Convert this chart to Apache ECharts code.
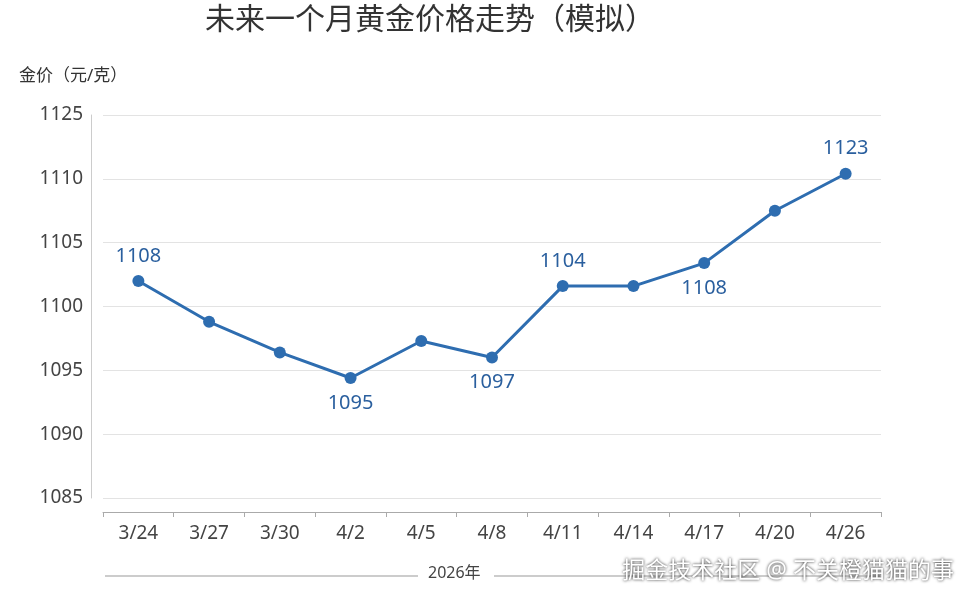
<!DOCTYPE html>
<html><head><meta charset="utf-8">
<script src="https://cdn.jsdelivr.net/npm/echarts@6/dist/echarts.min.js"></script>
<style>html,body{margin:0;background:#fff}#main{width:970px;height:606px}</style>
</head><body><div id="main"></div>
<script>
var dates = ['3/24','3/27','3/30','4/2','4/5','4/8','4/11','4/14','4/17','4/20','4/26'];
var prices = [1102, 1098.8, 1096.4, 1094.4, 1097.3, 1096, 1101.6, 1101.6, 1103.4, 1107.5, 1110.4];
var pointLabels = ['1108','','','1095','','1097','1104','','1108','','1123'];
var labelPos = ['top','','','bottom','','bottom','top','','bottom','','top'];
var tickText = {1085:'1085',1090:'1090',1095:'1095',1100:'1100',1105:'1105',1110:'1110',1115:'1125'};

var font = '"Noto Sans", "Noto Sans CJK SC", sans-serif';
var chart = echarts.init(document.getElementById('main'));
chart.setOption({
  textStyle: { fontFamily: font },
  title: { text: '未来一个月黄金价格走势（模拟）', left: 425, top: 0, textAlign: 'center',
    textStyle: { fontSize: 30, fontWeight: 'normal', color: '#333', fontFamily: font } },
  grid: { left: 103, right: 89, top: 115, bottom: 108 },
  xAxis: {
    type: 'category', data: dates, offset: 14,
    axisLine: { lineStyle: { color: '#aaa' } },
    axisTick: { show: true, lineStyle: { color: '#aaa' } },
    axisLabel: { fontSize: 19, color: '#444', margin: 12 }
  },
  yAxis: {
    type: 'value', min: 1085, max: 1115, interval: 5, offset: 12,
    name: '金价（元/克）', nameLocation: 'end', nameGap: 30,
    nameTextStyle: { fontSize: 17, color: '#333', align: 'left', padding: [0, 0, 0, -72] },
    axisLine: { show: true, lineStyle: { color: '#ccc' } },
    axisLabel: { fontSize: 19, color: '#444', formatter: function (v) { return tickText[v] || ''; } },
    splitLine: { lineStyle: { color: '#e3e3e3' } }
  },
  series: [{
    type: 'line', symbol: 'circle', symbolSize: 12,
    lineStyle: { width: 3, color: '#2e6db0' },
    itemStyle: { color: '#2e6db0' },
    data: prices.map(function (v, i) {
      return { value: v, label: { show: !!pointLabels[i], position: labelPos[i] || 'top',
        formatter: pointLabels[i], fontSize: 20, color: '#2a5f9e', distance: 9 } };
    })
  }],
  graphic: [
    { type: 'line', shape: { x1: 105, y1: 576, x2: 418, y2: 576 }, style: { stroke: '#999', lineWidth: 1 } },
    { type: 'line', shape: { x1: 494, y1: 576, x2: 880, y2: 576 }, style: { stroke: '#999', lineWidth: 1 } },
    { type: 'text', left: 428, top: 565, style: { text: '2026年', fontSize: 16, fill: '#444', fontFamily: font } },
    { type: 'text', right: 16, top: 560, style: { text: '掘金技术社区 @ 不关橙猫猫的事', fontSize: 23, fill: '#fff',
      fontFamily: font, textShadowColor: 'rgba(0,0,0,0.9)', textShadowBlur: 3 } }
  ]
});
</script></body></html>
